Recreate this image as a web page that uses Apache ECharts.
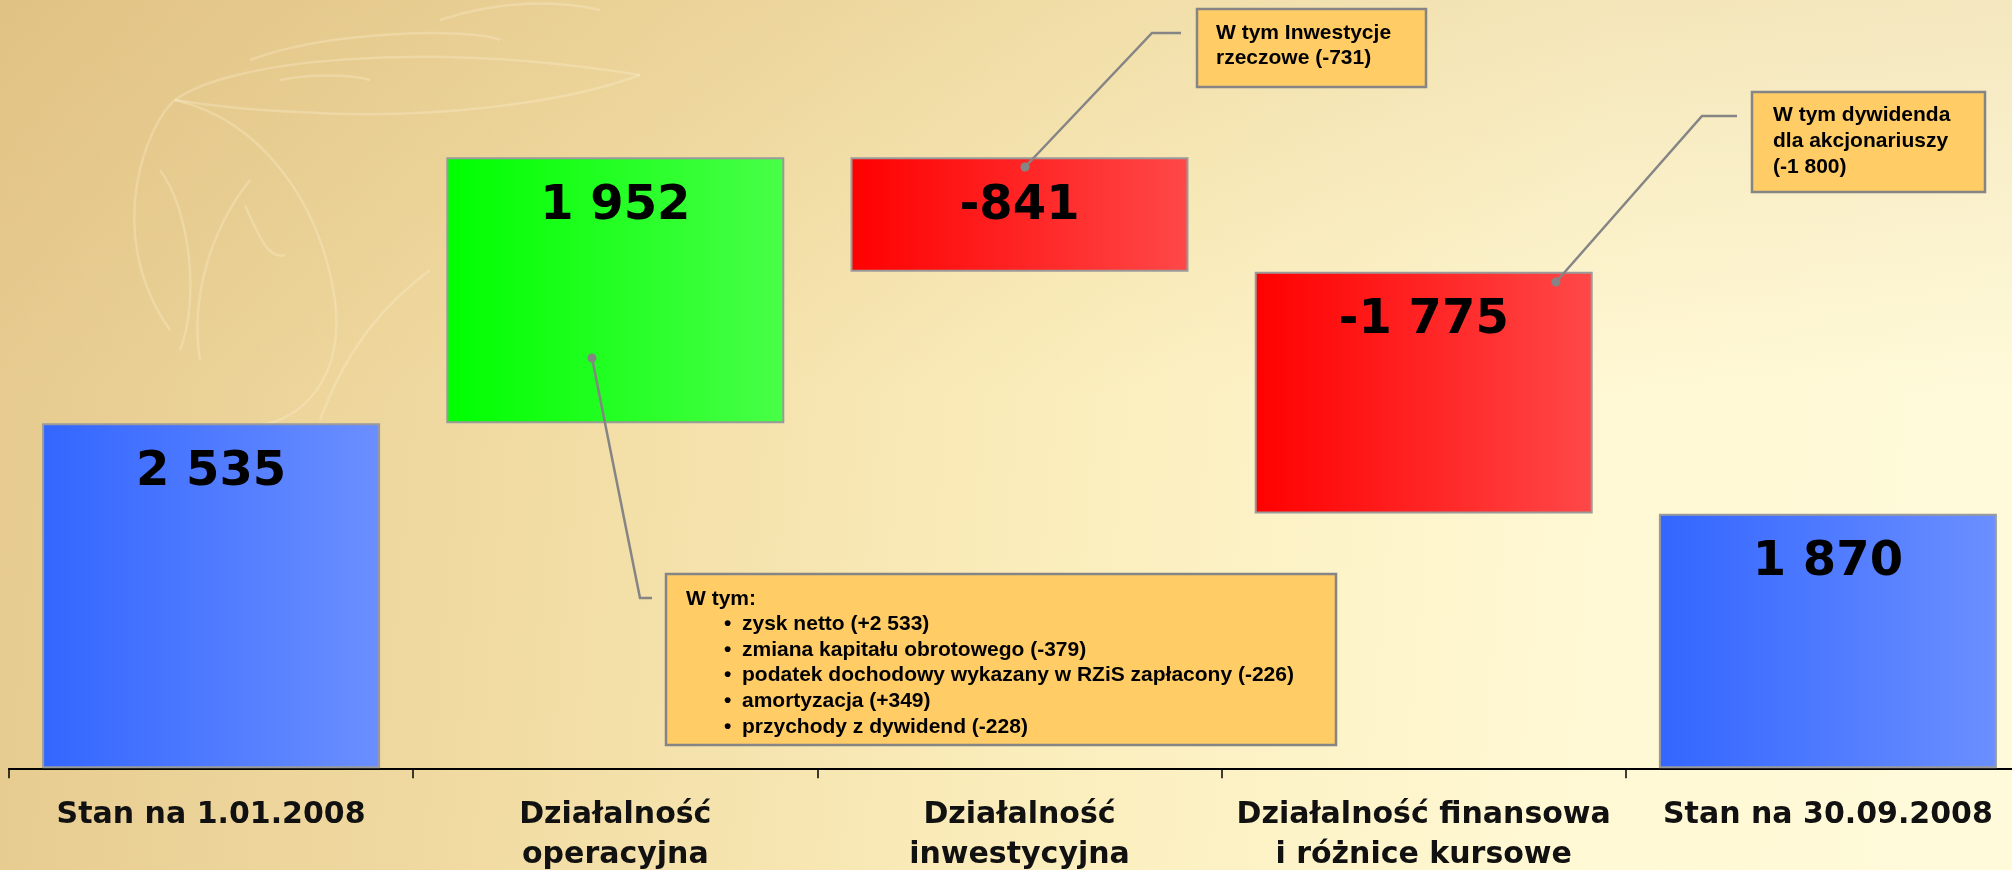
<!DOCTYPE html>
<html>
<head>
<meta charset="utf-8">
<title>Przepływy pieniężne 2008</title>
<script src="https://cdn.jsdelivr.net/npm/echarts@6/dist/echarts.min.js"></script>
<style>
  html, body { margin: 0; padding: 0; }
  #chart { width: 2012px; height: 870px; }
</style>
</head>
<body>
<div id="chart"></div>
<script>
// dane wykresu (mln zł)
const categories = [
  'Stan na 1.01.2008',
  'Działalność\noperacyjna',
  'Działalność\ninwestycyjna',
  'Działalność finansowa\ni różnice kursowe',
  'Stan na 30.09.2008'
];
const values = [2535, 1952, -841, -1775, 1870];
const kinds = ['total', 'delta', 'delta', 'delta', 'total'];

const noteInvest = ['W tym Inwestycje', 'rzeczowe (-731)'];
const noteDividend = ['W tym dywidenda', 'dla akcjonariuszy', '(-1 800)'];
const noteOperHead = 'W tym:';
const noteOper = [
  'zysk netto (+2 533)',
  'zmiana kapitału obrotowego (-379)',
  'podatek dochodowy wykazany w RZiS zapłacony (-226)',
  'amortyzacja (+349)',
  'przychody z dywidend (-228)'
];

// podstawy i wysokości słupków kaskady
const base = [];
const height = [];
let run = 0;
values.forEach((v, i) => {
  if (kinds[i] === 'total') {
    base.push(0); height.push(v); run = v;
  } else if (v >= 0) {
    base.push(run); height.push(v); run += v;
  } else {
    base.push(run + v); height.push(-v); run += v;
  }
});

function fmt(v) {
  const s = Math.abs(v).toString().replace(/\B(?=(\d{3})+(?!\d))/g, ' ');
  return (v < 0 ? '-' : '') + s;
}

function grad(a, b) {
  return new echarts.graphic.LinearGradient(0, 0, 1, 0, [
    { offset: 0, color: a }, { offset: 1, color: b }
  ]);
}

function barColor(i) {
  if (kinds[i] === 'total') return grad('#3366ff', '#6b8fff');
  return values[i] >= 0 ? grad('#00ff00', '#48ff48') : grad('#ff0000', '#ff4848');
}

const chart = echarts.init(document.getElementById('chart'));

const GRAY = '#858585';
const BOX = '#ffcc66';
const noteFont = { fontFamily: 'Liberation Sans, Arial, sans-serif', fontWeight: 'bold', fontSize: 21, fill: '#000' };

function textLines(lines, x, y0, step) {
  return lines.map((t, k) => ({
    type: 'text', z: 101, silent: true,
    x: x, y: y0 + k * step,
    style: Object.assign({ text: t, verticalAlign: 'middle' }, noteFont)
  }));
}

function leader(points) {
  return [
    { type: 'polyline', z: 100, silent: true, shape: { points: points },
      style: { stroke: GRAY, lineWidth: 2.5, fill: null } },
    { type: 'circle', z: 100, silent: true,
      shape: { cx: points[0][0], cy: points[0][1], r: 4.5 }, style: { fill: GRAY } }
  ];
}

function box(x, y, w, h) {
  return { type: 'rect', z: 99, silent: true, shape: { x: x, y: y, width: w, height: h },
    style: { fill: BOX, stroke: GRAY, lineWidth: 2.5 } };
}

// tło: gradient + blady znak wodny (krzywe Beziera)
const mark = { stroke: 'rgba(255,246,214,0.28)', lineWidth: 2.5, fill: null };
const watermark = [
  [170, 330, 100, 230, 150, 120, 175, 100],
  [175, 100, 260, 120, 320, 200, 335, 300],
  [335, 300, 345, 380, 300, 420, 260, 425],
  [175, 100, 230, 60, 420, 40, 640, 75],
  [640, 75, 560, 105, 420, 120, 300, 112],
  [300, 112, 240, 110, 200, 104, 175, 100],
  [250, 60, 330, 30, 470, 28, 500, 40],
  [280, 80, 310, 74, 350, 74, 370, 80],
  [160, 170, 190, 210, 200, 300, 180, 350],
  [250, 180, 210, 230, 190, 300, 200, 360],
  [245, 205, 260, 240, 270, 260, 285, 255],
  [320, 420, 350, 340, 390, 300, 430, 270],
  [440, 20, 500, 0, 560, 0, 600, 10]
].map(c => ({
  type: 'bezierCurve', z: -9, silent: true,
  shape: { x1: c[0], y1: c[1], cpx1: c[2], cpy1: c[3], cpx2: c[4], cpy2: c[5], x2: c[6], y2: c[7] },
  style: mark
}));

const graphics = [
  { type: 'rect', z: -10, silent: true, shape: { x: 0, y: 0, width: 2012, height: 870 },
    style: { fill: new echarts.graphic.LinearGradient(0, 0, 1, 0.2, [
      { offset: 0, color: '#e6ca8e' },
      { offset: 0.3, color: '#f2dda5' },
      { offset: 0.55, color: '#fbeebd' },
      { offset: 0.8, color: '#fff8d3' },
      { offset: 1, color: '#fffada' }
    ]) } },
  { type: 'rect', z: -10, silent: true, shape: { x: 0, y: 0, width: 2012, height: 870 },
    style: { fill: new echarts.graphic.LinearGradient(0, 0, 0, 1, [
      { offset: 0, color: 'rgba(205,165,95,0.22)' },
      { offset: 0.45, color: 'rgba(205,165,95,0)' },
      { offset: 1, color: 'rgba(255,255,255,0)' }
    ]) } }
]
  .concat(watermark)
  .concat(leader([[1025, 167], [1152, 33], [1181, 33]]))
  .concat([box(1197, 9, 229, 78)])
  .concat(textLines(noteInvest, 1216, 33, 25))
  .concat(leader([[1556, 282], [1702, 116], [1737, 116]]))
  .concat([box(1752, 92, 233, 100)])
  .concat(textLines(noteDividend, 1773, 115, 26))
  .concat(leader([[592, 358], [640, 598], [652, 598]]))
  .concat([box(666, 574, 670, 171)])
  .concat(textLines([noteOperHead], 686, 599, 25))
  .concat(textLines(noteOper.map(() => '•'), 724, 624, 25.8))
  .concat(textLines(noteOper, 742, 624, 25.8));

chart.setOption({
  animation: false,
  grid: { left: 9, right: -18, top: 87.5, bottom: 101.7, outerBoundsMode: 'none' },
  xAxis: {
    type: 'category',
    data: categories,
    axisLine: { show: true, lineStyle: { color: '#000', width: 2 } },
    axisTick: { show: true, alignWithLabel: false, length: 10, lineStyle: { color: '#000', width: 1.5 } },
    axisLabel: {
      interval: 0, margin: 27, color: '#111',
      fontFamily: 'DejaVu Sans, Verdana, sans-serif', fontWeight: 'bold',
      fontSize: 30, lineHeight: 40
    }
  },
  yAxis: { type: 'value', min: 0, max: 5000, show: false },
  graphic: graphics,
  series: [
    {
      type: 'bar', stack: 'w', data: base, barWidth: 338, silent: true,
      itemStyle: { color: 'transparent' }
    },
    {
      type: 'bar', stack: 'w', barWidth: 338,
      data: height.map((h, i) => ({
        value: h,
        itemStyle: { color: barColor(i), borderColor: '#9a9a9a', borderWidth: 2 }
      })),
      label: {
        show: true, position: 'insideTop', distance: 25,
        fontFamily: 'DejaVu Sans, Verdana, sans-serif', fontWeight: 'bold',
        fontSize: 48, lineHeight: 48, color: '#000',
        formatter: p => fmt(values[p.dataIndex])
      }
    }
  ]
});
</script>
</body>
</html>
